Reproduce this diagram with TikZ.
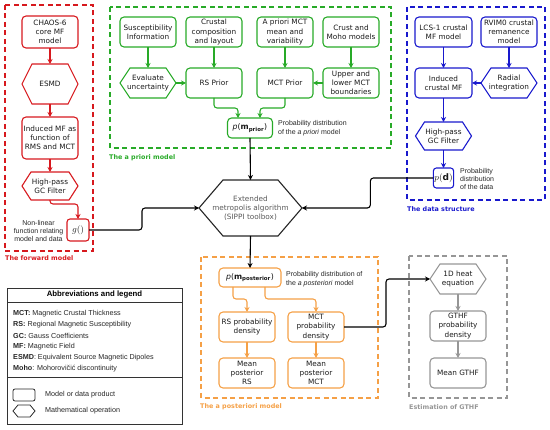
\documentclass[tikz,border=0pt]{standalone}
\usepackage{fontspec}
\setmainfont{DejaVu Sans}
\newfontfamily\arialf{Liberation Sans}
\usetikzlibrary{arrows.meta}
\definecolor{cred}{RGB}{215,25,30}
\definecolor{cgreen}{RGB}{40,170,40}
\definecolor{cblue}{RGB}{25,25,205}
\definecolor{corange}{RGB}{245,160,70}
\definecolor{cgrey}{RGB}{150,150,150}
\newcommand\drawhex[3]{\draw[#3] (#1.west) -- ([xshift=#2]#1.north west) -- ([xshift=-#2]#1.north east) -- (#1.east) -- ([xshift=-#2]#1.south east) -- ([xshift=#2]#1.south west) -- cycle;}
\begin{document}
\begin{tikzpicture}[x=1pt,y=-1pt,
 box/.style={draw, rounded corners=4pt, line width=1.1pt, minimum width=56pt, minimum height=30pt, inner sep=1pt, align=center, font=\fontsize{7.3}{9.2}\selectfont, text=black!90, outer sep=0pt},
 hexn/.style={rectangle, draw=none, minimum width=56pt, minimum height=30pt, inner sep=1pt, align=center, font=\fontsize{7.3}{9.2}\selectfont, text=black!90, outer sep=0pt},
 arr/.style={-{Stealth[length=5pt,width=5pt]}, line width=1.1pt, rounded corners=3pt},
 frame/.style={dash pattern=on 5pt off 3.5pt, line width=1.4pt},
 grplbl/.style={anchor=west, font=\fontsize{6.4}{8}\selectfont\bfseries, inner sep=0pt},
 note/.style={font=\arialf\fontsize{7}{8.4}\selectfont, align=left, anchor=west, inner sep=0pt, text=black!85},
 lg/.style={font=\arialf\fontsize{7.2}{8.6}\selectfont, anchor=west, inner sep=0pt, text=black!85},
]
\useasboundingbox (0,0) rectangle (550,430);
% frames
\draw[frame, cred] (5,5) rectangle (93,251);
\draw[frame, cgreen] (110,7) rectangle (391,148);
\draw[frame, cblue] (407,7) rectangle (545,200);
\draw[frame, corange] (201,257) rectangle (378,398);
\draw[frame, cgrey] (409,256) rectangle (507,398);
\node[grplbl, text=cred] (lblred) at (5,258) {The forward model};
\node[grplbl, text=cgreen] (lblgreen) at (109,158) {The a priori model};
\node[grplbl, text=cblue] (lblblue) at (407,209) {The data structure};
\node[grplbl, text=corange] (lblorange) at (200,407) {The a posteriori model};
\node[grplbl, text=cgrey] (lblgrey) at (409,407) {Estimation of GTHF};

% forward model
\node[box, draw=cred, minimum height=32pt] (chaos) at (50,32) {CHAOS-6\\core MF\\model};
\node[hexn, minimum height=40pt] (esmd) at (50,84) {ESMD};
\node[box, draw=cred, minimum height=42pt] (indmf) at (50,138) {Induced MF as\\function of\\RMS and MCT};
\node[hexn, minimum height=28pt] (hpr) at (50,186) {High-pass\\GC Filter};
\node[box, draw=cred, minimum width=22pt, minimum height=22pt, rounded corners=3pt, font=\fontsize{9}{10}\selectfont] (g) at (78,230) {$g()$};
\node[note, anchor=center, align=center] (nl) at (38.5,231) {Non-linear\\function relating\\model and data};
\drawhex{esmd}{10pt}{cred, line width=1.1pt}
\drawhex{hpr}{9pt}{cred, line width=1.1pt}
\draw[arr, cred] (chaos.south) -- (esmd.north);
\draw[arr, cred] (esmd.south) -- (indmf.north);
\draw[arr, cred] (indmf.south) -- (hpr.north);
\draw[arr, cred] (hpr.south) -- ++(0,4) -| (g.north);

% a priori model
\node[box, draw=cgreen] (sus) at (148,32) {Susceptibility\\Information};
\node[box, draw=cgreen] (crust) at (214,32) {Crustal\\composition\\and layout};
\node[box, draw=cgreen] (apri) at (285,32) {A priori MCT\\mean and\\variability};
\node[box, draw=cgreen] (moho) at (351,32) {Crust and\\Moho models};
\node[hexn] (eval) at (148,83) {Evaluate\\uncertainty};
\node[box, draw=cgreen] (rsprior) at (214,83) {RS Prior};
\node[box, draw=cgreen] (mctprior) at (285,83) {MCT Prior};
\node[box, draw=cgreen] (upper) at (351,83) {Upper and\\lower MCT\\boundaries};
\node[box, draw=cgreen, minimum width=45pt, minimum height=20pt, font=\fontsize{7.8}{9}\selectfont] (pprior) at (250,128) {\textit{p}(\textbf{m}\textsubscript{\textbf{prior}})};
\node[note] (pprior-t) at (278,128) {Probability distribution\\of the \textit{a priori} model};
\drawhex{eval}{10pt}{cgreen, line width=1.1pt}
\draw[arr, cgreen] (sus.south) -- (eval.north);
\draw[arr, cgreen] (crust.south) -- (rsprior.north);
\draw[arr, cgreen] (apri.south) -- (mctprior.north);
\draw[arr, cgreen] (moho.south) -- (upper.north);
\draw[arr, cgreen] (eval.east) -- (rsprior.west);
\draw[arr, cgreen] (upper.west) -- (mctprior.east);
\draw[arr, cgreen] (rsprior.south) -- ++(0,10) -| ([xshift=-12pt]pprior.north);
\draw[arr, cgreen] (mctprior.south) -- ++(0,10) -| ([xshift=10pt]pprior.north);

% data structure
\node[box, draw=cblue, minimum width=57pt] (lcs) at (443.5,32) {LCS-1 crustal\\MF model};
\node[box, draw=cblue] (rvim) at (509,32) {RVIM0 crustal\\remanence\\model};
\node[box, draw=cblue, minimum width=57pt] (indc) at (443.5,83) {Induced\\crustal MF};
\node[hexn] (radial) at (509,83) {Radial\\integration};
\node[hexn, minimum height=28pt] (hpb) at (443.5,136) {High-pass\\GC Filter};
\node[box, draw=cblue, minimum width=20pt, minimum height=20pt, rounded corners=3pt, font=\fontsize{9}{10}\selectfont] (pd) at (443.5,178) {$p(\mathbf{d})$};
\node[note] (pd-t) at (460,179) {Probability\\distribution\\of the data};
\drawhex{radial}{10pt}{cblue, line width=1.1pt}
\drawhex{hpb}{9pt}{cblue, line width=1.1pt}
\draw[arr, cblue] (lcs.south) -- (indc.north);
\draw[arr, cblue] (rvim.south) -- (radial.north);
\draw[arr, cblue] (radial.west) -- (indc.east);
\draw[arr, cblue] (indc.south) -- (hpb.north);
\draw[arr, cblue] (hpb.south) -- (pd.north);

% algorithm
\node[hexn, minimum width=103pt, minimum height=56pt, text=black!65] (alg) at (250.5,208) {Extended\\metropolis algorithm\\(SIPPI toolbox)};
\drawhex{alg}{24pt}{black!85, line width=1.1pt}
\draw[arr] (pprior.south) -- (alg.north);
\draw[arr] (g.east) -- ++(53,0) |- (alg.west);
\draw[arr] (pd.west) -- ++(-63,0) |- (alg.east);

% a posteriori
\node[box, draw=corange, minimum width=62pt, minimum height=19pt, font=\fontsize{7.8}{9}\selectfont] (ppost) at (250,277.5) {\textit{p}(\textbf{m}\textsubscript{\textbf{posterior}})};
\node[note] (ppost-t) at (286,279) {Probability distribution of\\the \textit{a posteriori} model};
\node[box, draw=corange] (rsd) at (247,327) {RS probability\\density};
\node[box, draw=corange] (mctd) at (316,327) {MCT\\probability\\density};
\node[box, draw=corange] (mrs) at (247,373) {Mean\\posterior\\RS};
\node[box, draw=corange] (mmct) at (316,373) {Mean\\posterior\\MCT};
\draw[arr] (alg.south) -- (ppost.north);
\draw[arr, corange] ([xshift=-17pt]ppost.south) -- ++(0,12) -| (rsd.north);
\draw[arr, corange] ([xshift=15pt]ppost.south) -- ++(0,12) -| (mctd.north);
\draw[arr, corange] (rsd.south) -- (mrs.north);
\draw[arr, corange] (mctd.south) -- (mmct.north);

% GTHF
\node[hexn] (heat) at (458,279) {1D heat\\equation};
\node[box, draw=cgrey] (gthfd) at (458,326) {GTHF\\probability\\density};
\node[box, draw=cgrey] (mgthf) at (458,373) {Mean GTHF};
\drawhex{heat}{10pt}{cgrey, line width=1.1pt}
\draw[arr, cgrey] (heat.south) -- (gthfd.north);
\draw[arr, cgrey] (gthfd.south) -- (mgthf.north);
\draw[arr] (mctd.east) -- ++(42,0) |- (heat.west);

% legend
\draw[black!80, line width=0.8pt] (7,288) rectangle (182,424);
\draw[black!80, line width=0.8pt] (7,302) -- (182,302);
\draw[black!80, line width=0.8pt] (7,377) -- (182,377);
\node[font=\arialf\bfseries\fontsize{7.8}{9}\selectfont, inner sep=0pt] (lgtitle) at (94.5,295) {Abbreviations and legend};
\node[lg] (l1) at (13,313.5) {\textbf{MCT:} Magnetic Crustal Thickness};
\node[lg] (l2) at (13,324.5) {\textbf{RS:} Regional Magnetic Susceptibility};
\node[lg] (l3) at (13,335.5) {\textbf{GC:} Gauss Coefficients};
\node[lg] (l4) at (13,346.5) {\textbf{MF:} Magnetic Field};
\node[lg] (l5) at (13,357.5) {\textbf{ESMD}: Equivalent Source Magnetic Dipoles};
\node[lg] (l6) at (13,368.5) {\textbf{Moho}: Mohorovičić discontinuity};
\node[box, draw=black!85, line width=0.8pt, minimum width=22pt, minimum height=12pt, rounded corners=2pt] (lgbox) at (24,395) {};
\node[hexn, minimum width=22pt, minimum height=12pt] (lghex) at (24,411) {};
\drawhex{lghex}{5pt}{black!85, line width=0.8pt}
\node[lg] (lgbox-t) at (45,395) {Model or data product};
\node[lg] (lghex-t) at (45,411) {Mathematical operation};
\end{tikzpicture}
\end{document}
